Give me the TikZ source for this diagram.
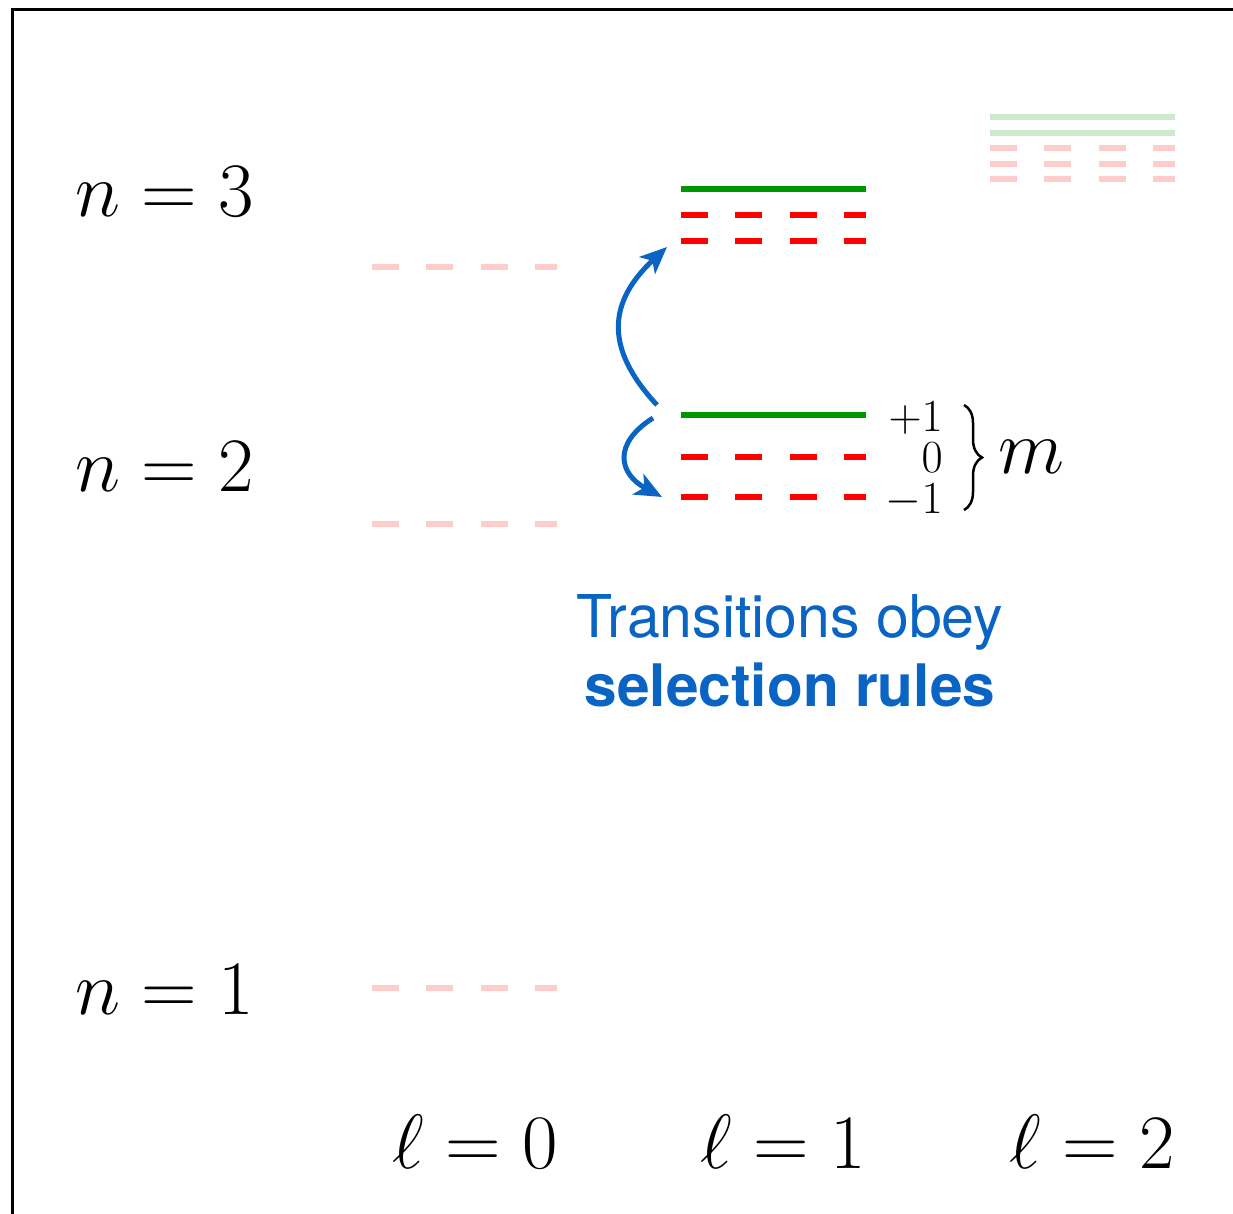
\documentclass[tikz,border=0pt]{standalone}
\usepackage{fix-cm}
\usepackage{fontspec}
\newfontfamily\heros{TeX Gyre Heros}
\usetikzlibrary{arrows.meta,decorations.pathreplacing}
\definecolor{lvgreen}{RGB}{0,150,0}
\definecolor{lvred}{RGB}{255,0,0}
\definecolor{paleg}{RGB}{204,234,204}
\definecolor{paler}{RGB}{255,204,204}
\definecolor{tblue}{RGB}{10,100,195}
\tikzset{
  solidlvl/.style={line width=6pt, line cap=butt},
  dashlvl/.style={line width=6pt, line cap=butt, dash pattern=on 27pt off 27.3pt},
  biglbl/.style={inner sep=0pt, font=\fontsize{77}{90}\selectfont},
  mlbl/.style={inner sep=0pt, align=right, anchor=north east, font=\fontsize{46}{41}\selectfont},
  bluetxt/.style={inner sep=0pt, anchor=base, text=tblue},
  trans/.style={draw=tblue, line width=5pt, -{Stealth[length=27pt,width=23pt,inset=7pt]}},
}
\begin{document}
\begin{tikzpicture}[x=1pt,y=-1pt]
\useasboundingbox (0,0) rectangle (1233,1213);
\clip (0,0) rectangle (1233,1213);
% frame
\draw[line width=3pt] (12.5,1300) -- (12.5,9.5) -- (1300,9.5);

% n labels
\node[biglbl, anchor=base west] (n3) at (75,216) {$n=3$};
\node[biglbl, anchor=base west] (n2) at (75,491) {$n=2$};
\node[biglbl, anchor=base west] (n1) at (75,1014) {$n=1$};

% l labels
\node[biglbl, anchor=base] (l0) at (475,1168) {$\ell=0$};
\node[biglbl, anchor=base] (l1) at (783,1168) {$\ell=1$};
\node[biglbl, anchor=base] (l2) at (1092,1168) {$\ell=2$};

% l=0 column
\draw[dashlvl, paler] (372,267) -- (557,267);
\draw[dashlvl, paler] (372,524) -- (557,524);
\draw[dashlvl, paler] (372,988) -- (557,988);

% l=1 column, n=3
\draw[solidlvl, lvgreen] (681,189) -- (866,189);
\draw[dashlvl, lvred] (681,215) -- (866,215);
\draw[dashlvl, lvred] (681,241) coordinate (n3m) -- (866,241);
% l=1 column, n=2
\draw[solidlvl, lvgreen] (681,415) coordinate (n2p) -- (866,415);
\draw[dashlvl, lvred] (681,457) -- (866,457);
\draw[dashlvl, lvred] (681,497) coordinate (n2m) -- (866,497);

% l=2 column
\draw[solidlvl, paleg] (990,117) -- (1175,117);
\draw[solidlvl, paleg] (990,133) -- (1175,133);
\draw[dashlvl, paler] (990,148) -- (1175,148);
\draw[dashlvl, paler] (990,164) -- (1175,164);
\draw[dashlvl, paler] (990,179) -- (1175,179);

% m labels
\node[mlbl] (mvals) at (943,401.5) {$+1$\\$0$\\$-1$};
\draw[line width=2.5pt, decorate, decoration={brace, amplitude=18pt}] (964,405) coordinate (bt) -- (964,510) coordinate (bb);
\node[biglbl, anchor=base west] (mlab) at (998,473) {$m$};

% transitions
\coordinate (a1s) at (657,405);
\coordinate (a1e) at (667,247);
\coordinate (a2s) at (653,418);
\coordinate (a2e) at (662,497);
\draw[trans] (a1s) .. controls (603,347) and (609,301) .. (a1e);
\draw[trans] (a2s) .. controls (612,444) and (619,474) .. (a2e);

% text
\node[bluetxt, font=\heros\fontsize{59}{69}\selectfont] (t1) at (790,637) {Transitions obey};
\node[bluetxt, font=\heros\bfseries\fontsize{58.6}{69}\selectfont] (t2) at (790,706) {selection rules};
\end{tikzpicture}
\end{document}
